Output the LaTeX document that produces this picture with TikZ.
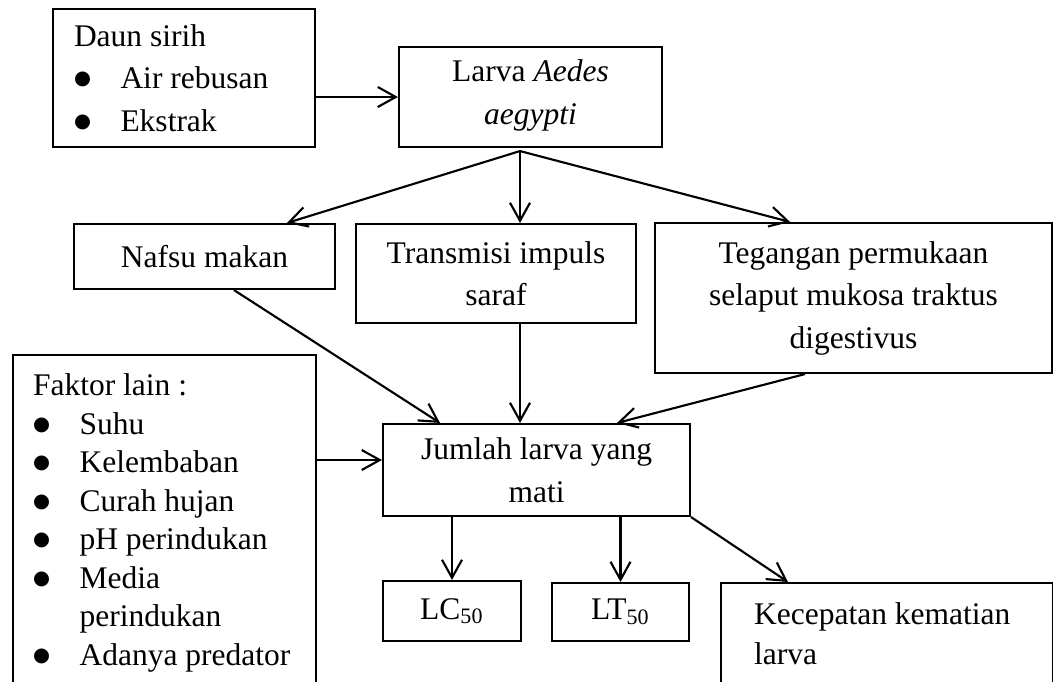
\documentclass[tikz,border=0pt]{standalone}
\usepackage{fontspec}
\setmainfont{Liberation Serif}
\newfontfamily\bulfont{DejaVu Sans}
\usetikzlibrary{arrows.meta}
\newcommand{\itembul}{\makebox[18.6pt][l]{\raisebox{1.7pt}{\bulfont\fontsize{7.8}{8}\selectfont ●}}}

\begin{document}
\begin{tikzpicture}[x=0.4pt, y=-0.4pt,
    box/.style={draw, line width=0.85pt, font=\fontsize{12.6}{17}\selectfont, inner sep=0pt},
    cbox/.style={box, align=center},
    lbox/.style={box, align=flush left},
    arr/.style={-{Straight Barb[length=7.2pt,width=8pt]}, line width=0.85pt}]
    \useasboundingbox (0,0) rectangle (1053,681);
    \clip (0,0) rectangle (1053,681);
    % Boxes
    \node[lbox, text width=88pt, inner xsep=8.4pt, minimum height=55.2pt] (daun) at (184,78)
      {Daun sirih\\ \itembul Air rebusan\\ \itembul Ekstrak};
    \node[cbox, minimum width=105.2pt, minimum height=40pt] (larva) at (530.5,97) {Larva \textit{Aedes}\\\textit{aegypti}\rule[-4pt]{0pt}{1pt}};
    \node[cbox, minimum width=104.4pt, minimum height=26pt] (nafsu) at (204.5,256.5) {Nafsu makan};
    \node[cbox, minimum width=112pt, minimum height=39.6pt] (transmisi) at (496,273.5) {Transmisi impuls\\saraf};
    \node[cbox, minimum width=158.8pt, minimum height=60pt] (tegangan) at (853.5,298) {Tegangan permukaan\\selaput mukosa traktus\\digestivus};
    \node[lbox, anchor=north west, text width=105.2pt, inner xsep=8pt, inner ysep=7.6pt,
      font=\fontsize{12.6}{15.4}\selectfont] (faktor) at (12,354)
      {Faktor lain :\\
       \itembul Suhu\\
       \itembul Kelembaban\\
       \itembul Curah hujan\\
       \itembul pH perindukan\\
       \itembul Media\\
       \hspace*{18.6pt}perindukan\\
       \itembul Adanya predator};
    \node[cbox, minimum width=122.8pt, minimum height=36.8pt] (jumlah) at (536.5,470) {Jumlah larva yang\\mati};
    \node[cbox, minimum width=55.2pt, minimum height=24pt] (lc) at (452,611) {LC\textsubscript{50}};
    \node[cbox, minimum width=54.8pt, minimum height=23.2pt] (lt) at (620.5,612) {LT\textsubscript{50}};
    \node[lbox, anchor=north west, text width=106.4pt, inner xsep=13.2pt, inner ysep=7.8pt,
      font=\fontsize{12.6}{16}\selectfont] (kecepatan) at (720,582)
      {Kecepatan kematian\\larva\strut};
    % Arrows
    \coordinate (fork) at ([xshift=-4.2pt,yshift=-1.2pt]larva.south);
    \coordinate (jin) at ([yshift=4pt]jumlah.west);
    \draw[arr] (daun.east |- larva.west) -- (larva.west);
    \draw[arr] (fork) -- ([xshift=33pt]nafsu.north);
    \draw[arr] (fork) -- (fork |- transmisi.north);
    \draw[arr] (fork) -- ([xshift=-25.4pt]tegangan.north);
    \draw[arr] ([xshift=11.8pt]nafsu.south) -- ([xshift=-38.6pt]jumlah.north);
    \draw[arr] (fork |- transmisi.south) -- (fork |- jumlah.north);
    \draw[arr] ([xshift=-19.4pt]tegangan.south) -- ([xshift=32.2pt]jumlah.north);
    \draw[arr] (faktor.east |- jin) -- (jin);
    \draw[arr] (lc.north |- jumlah.south) -- (lc.north);
    \draw[arr] (lt.north |- jumlah.south) -- (lt.north);
    \draw[arr] (jumlah.south east) -- ([xshift=27.2pt]kecepatan.north west);
\end{tikzpicture}
\end{document}
